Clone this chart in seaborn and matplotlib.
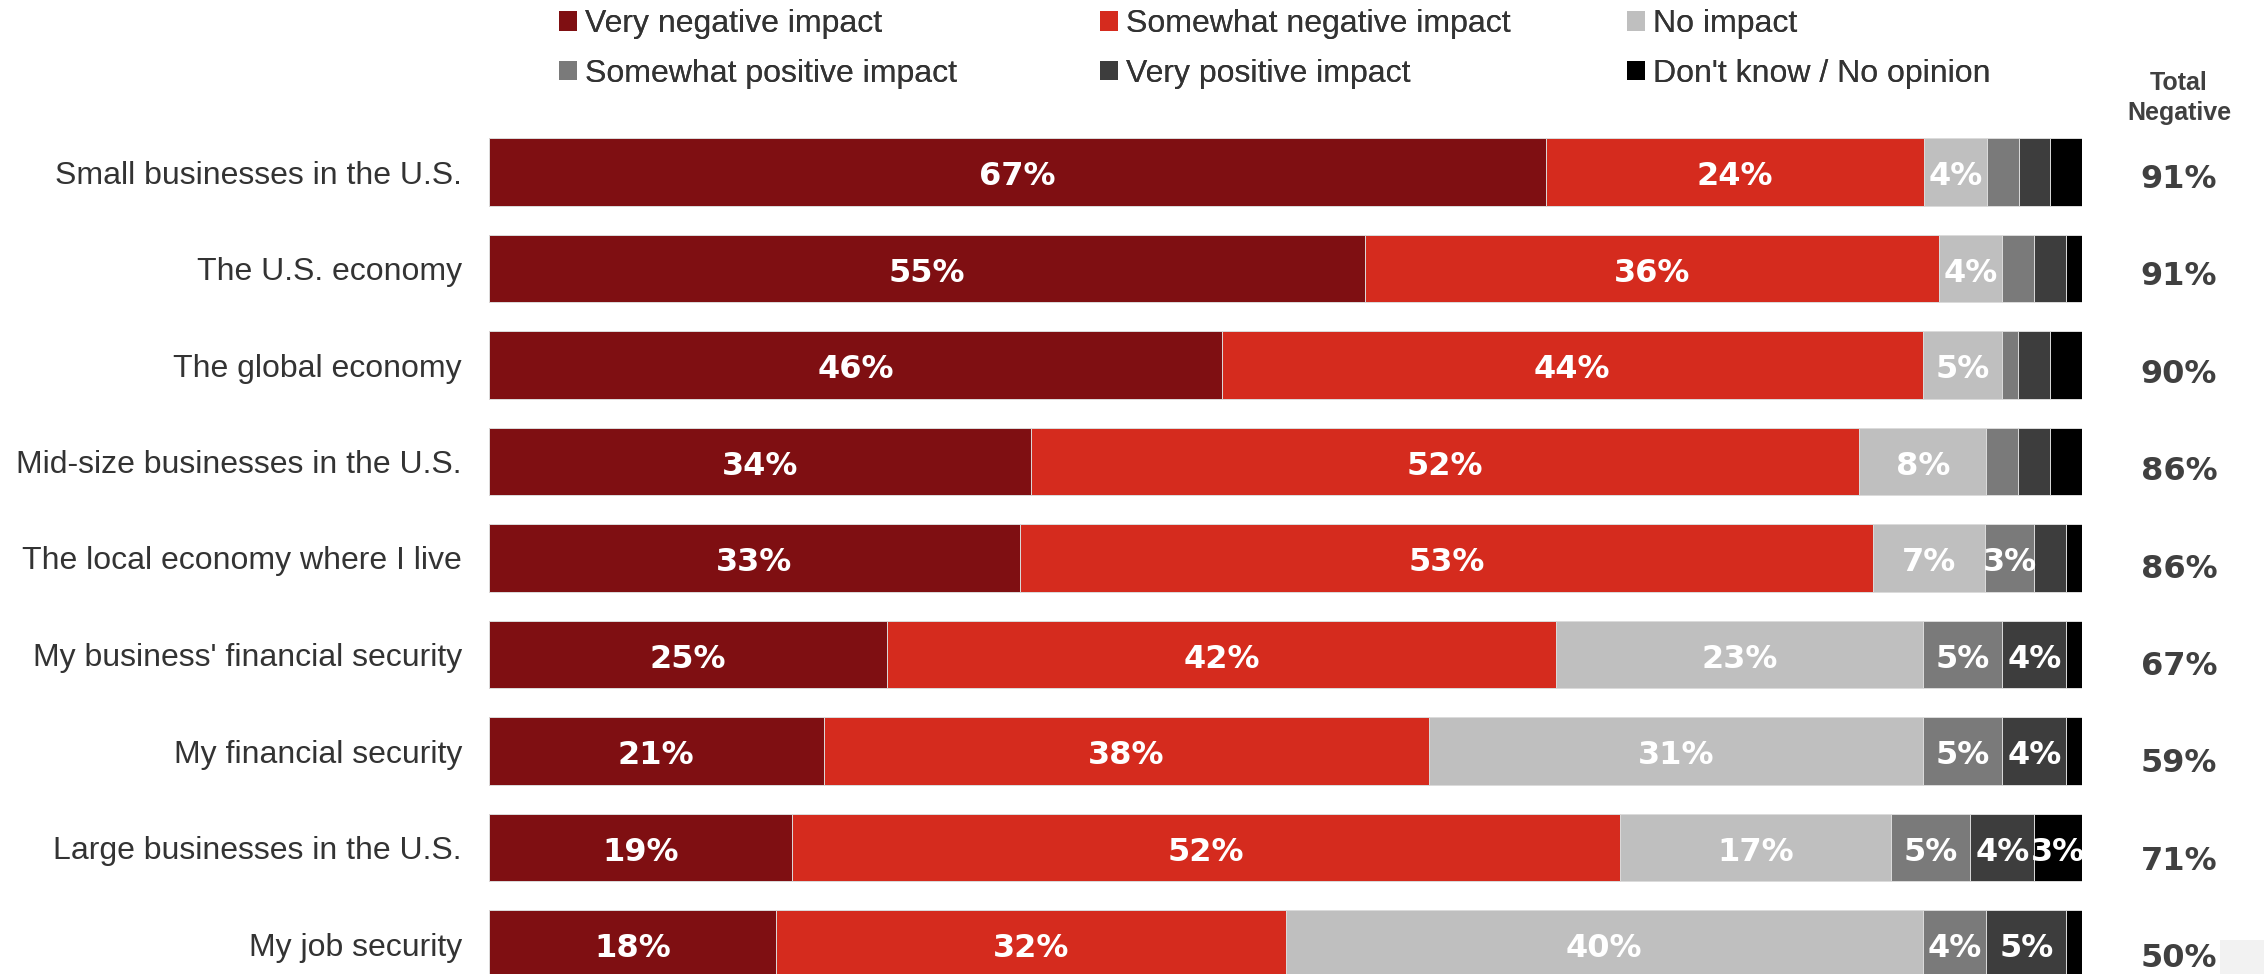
import numpy as np
import pandas as pd
import seaborn as sns
import matplotlib.pyplot as plt
from matplotlib.patches import Patch, Rectangle

# Survey items (top to bottom)
items = [
    "Small businesses in the U.S.",
    "The U.S. economy",
    "The global economy",
    "Mid-size businesses in the U.S.",
    "The local economy where I live",
    "My business' financial security",
    "My financial security",
    "Large businesses in the U.S.",
    "My job security",
]

series = [
    "Very negative impact",
    "Somewhat negative impact",
    "No impact",
    "Somewhat positive impact",
    "Very positive impact",
    "Don't know / No opinion",
]

very_negative = [67, 55, 46, 34, 33, 25, 21, 19, 18]
somewhat_negative = [24, 36, 44, 52, 53, 42, 38, 52, 32]
no_impact = [4, 4, 5, 8, 7, 23, 31, 17, 40]
somewhat_positive = [2, 2, 1, 2, 3, 5, 5, 5, 4]
very_positive = [2, 2, 2, 2, 2, 4, 4, 4, 5]
dont_know = [2, 1, 2, 2, 1, 1, 1, 3, 1]

total_negative = [91, 91, 90, 86, 86, 67, 59, 71, 50]

colors = ["#7F0F12", "#D52B1E", "#BFBFBF", "#7A7A7A", "#3D3D3D", "#000000"]

# 100% stacked: normalise each row, then cumulative sums
vals = np.array([very_negative, somewhat_negative, no_impact,
                 somewhat_positive, very_positive, dont_know], dtype=float)
shares = vals / vals.sum(axis=0) * 100
cum = np.cumsum(shares, axis=0)

df = pd.DataFrame({"item": items})
for k, s in enumerate(series):
    df[s] = cum[k]

W, H = 2264, 974
PX = 96.5  # pixels per bar slot
fig = plt.figure(figsize=(W / 100, H / 100), dpi=100)
ax = fig.add_axes([489 / W, 0, 1593 / W, 1])

# draw from the outermost cumulative layer inward
for k in range(len(series) - 1, -1, -1):
    sns.barplot(data=df, x=series[k], y="item", color=colors[k], orient="h",
                width=0.70, saturation=1, edgecolor="#dcdcdc", linewidth=0.7,
                ax=ax)

# segment labels (baseline shifted so digits sit centred on the bar)
for k in range(len(series)):
    left = cum[k - 1] if k > 0 else np.zeros(len(items))
    for i in range(len(items)):
        v = vals[k, i]
        if v >= 3:
            ax.text((left[i] + cum[k, i]) / 2, i + 13 / PX, f"{int(v)}%",
                    ha="center", va="baseline", color="white", fontsize=23,
                    fontweight="bold", family="DejaVu Sans")

ax.set_xlim(0, 100)
ax.set_ylim((974 - 172) / PX, -172 / PX)
ax.set_xlabel("")
ax.set_ylabel("")
ax.set_xticks([])
ax.tick_params(axis="y", length=0, pad=19.5, labelsize=23, labelcolor="#333333")
for lab in ax.get_yticklabels():
    lab.set_family("Liberation Sans")
for sp in ax.spines.values():
    sp.set_visible(False)
ax.patch.set_alpha(0)

# legend: three columns of two entries
order = [(0, 3), (1, 4), (2, 5)]
col_x = [559, 1100, 1627]
for (a, b), x in zip(order, col_x):
    handles = [Patch(facecolor=colors[a], edgecolor="none"),
               Patch(facecolor=colors[b], edgecolor="none")]
    leg = fig.legend(handles, [series[a], series[b]], loc="center left",
                     bbox_to_anchor=(x / W, 1 - 49 / H), frameon=False,
                     prop={"family": "Liberation Sans", "size": 23},
                     handlelength=0.55, handleheight=0.55, handletextpad=0.25,
                     labelspacing=0.6, borderpad=0, borderaxespad=0)
    for t in leg.get_texts():
        t.set_color("#333333")
    fig.add_artist(leg)

# total negative column
fig.text(2179 / W, 1 - 98 / H, "Total\nNegative", ha="center", va="center",
         fontsize=18, fontweight="bold", color="#404040",
         family="Liberation Sans", linespacing=1.35)
for i, t in enumerate(total_negative):
    fig.text(2179 / W, 1 - (176 + 97.4 * i + 12) / H, f"{t}%", ha="center",
             va="baseline", fontsize=23, fontweight="bold", color="#404040",
             family="DejaVu Sans")

fig.patches.append(Rectangle((2220 / W, 0), 44 / W, 34 / H,
                             transform=fig.transFigure, facecolor="#F2F2F2",
                             edgecolor="none", zorder=0))

fig.savefig("out.png", dpi=100)
plt.close()
